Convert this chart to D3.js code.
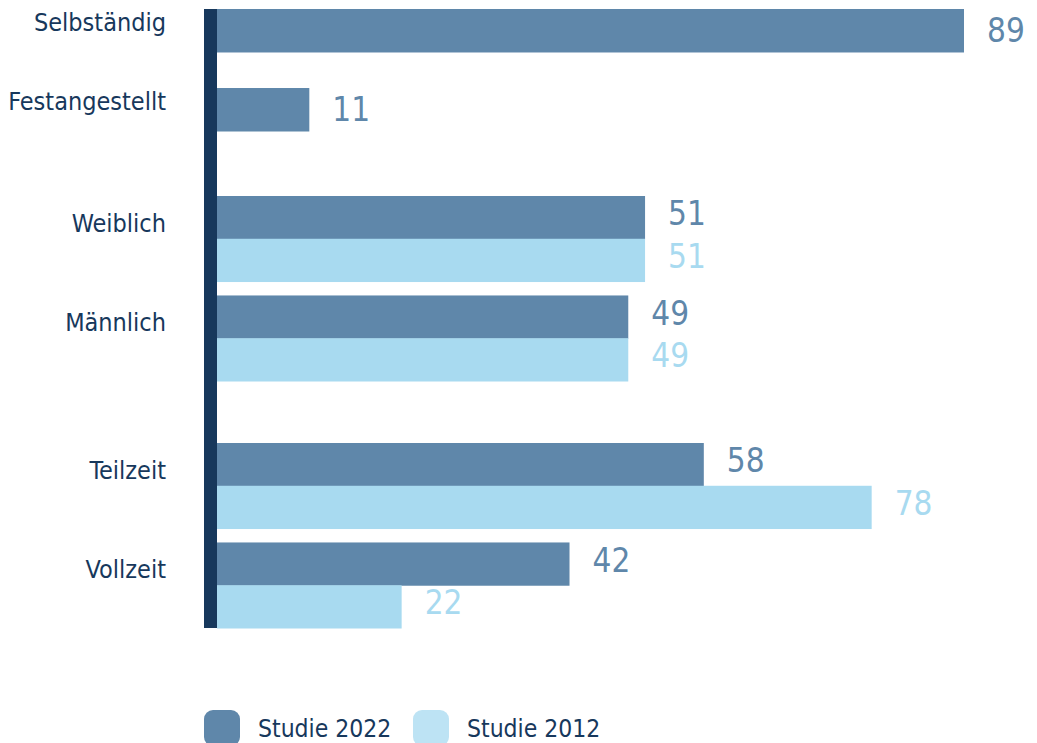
<!DOCTYPE html>
<html>
<head>
<meta charset="utf-8">
<title>Studie 2022 / 2012</title>
<script src="https://d3js.org/d3.v7.min.js"></script>
<style>
  body { margin: 0; background: #fff; }
  text { font-family: "DejaVu Sans Condensed", "Liberation Sans Narrow", sans-serif; }
</style>
</head>
<body>
<div id="chart"></div>
<script>
// data
const groups = [
  ['Selbständig', 'Festangestellt'],
  ['Weiblich', 'Männlich'],
  ['Teilzeit', 'Vollzeit']
];
const seriesNames = ['Studie 2022', 'Studie 2012'];
const values2022 = { 'Selbständig': 89, 'Festangestellt': 11, 'Weiblich': 51, 'Männlich': 49, 'Teilzeit': 58, 'Vollzeit': 42 };
const values2012 = { 'Weiblich': 51, 'Männlich': 49, 'Teilzeit': 78, 'Vollzeit': 22 };

const colors = ['#5f87aa', '#a8daf0'];
const legendColors = ['#5f87aa', '#bde3f4'];
const navy = '#17385c';

const width = 1037, height = 743;
const x0 = 217;

const svg = d3.select('#chart').append('svg')
  .attr('width', width)
  .attr('height', height);

const x = d3.scaleLinear().domain([0, 89]).range([x0, 964]);

// vertical ranges of the three blocks
const groupRanges = [[9, 131], [196, 381], [443, 628]];
const groupPad = [0.456, 0.14, 0.14];

groups.forEach((cats, gi) => {
  const series = cats.map(c => [values2022[c], values2012[c]].filter(v => v !== undefined));
  const nSeries = d3.max(series, s => s.length);
  const y = d3.scaleBand().domain(cats).range(groupRanges[gi])
    .paddingInner(groupPad[gi]).paddingOuter(0);
  const ys = d3.scaleBand().domain(d3.range(nSeries)).range([0, y.bandwidth()]);

  cats.forEach((c, ci) => {
    const g = svg.append('g').attr('transform', `translate(0,${y(c)})`);
    g.selectAll('rect')
      .data(series[ci])
      .join('rect')
        .attr('x', x0)
        .attr('y', (d, i) => ys(i))
        .attr('width', d => x(d) - x0)
        .attr('height', ys.bandwidth() + 0.5)
        .attr('fill', (d, i) => colors[i]);

    g.selectAll('text.val')
      .data(series[ci])
      .join('text')
        .attr('class', 'val')
        .attr('x', d => x(d) + 23)
        .attr('y', (d, i) => ys(i) + ys.bandwidth() / 2 - (nSeries > 1 ? 4 : 0))
        .attr('dy', '0.36em')
        .attr('font-size', 33)
        .attr('fill', (d, i) => i === 0 ? '#5f87aa' : '#a8daf0')
        .text(d => d);

    g.append('text')
      .attr('x', 166)
      .attr('y', y.bandwidth() * 0.31)
      .attr('dy', '0.36em')
      .attr('text-anchor', 'end')
      .attr('font-size', 25)
      .attr('fill', navy)
      .text(c);
  });
});

// axis line
svg.append('rect')
  .attr('x', 204).attr('y', 9)
  .attr('width', 13).attr('height', 628 - 9)
  .attr('fill', navy);

// legend
const legend = svg.append('g').attr('transform', 'translate(204,710)');
const lx = [0, 209];
seriesNames.forEach((s, i) => {
  const item = legend.append('g').attr('transform', `translate(${lx[i]},0)`);
  item.append('rect')
    .attr('width', 36).attr('height', 36).attr('rx', 9)
    .attr('fill', legendColors[i]);
  item.append('text')
    .attr('x', 54).attr('y', 18)
    .attr('dy', '0.36em')
    .attr('font-size', 24.5)
    .attr('fill', navy)
    .text(s);
});
</script>
</body>
</html>
